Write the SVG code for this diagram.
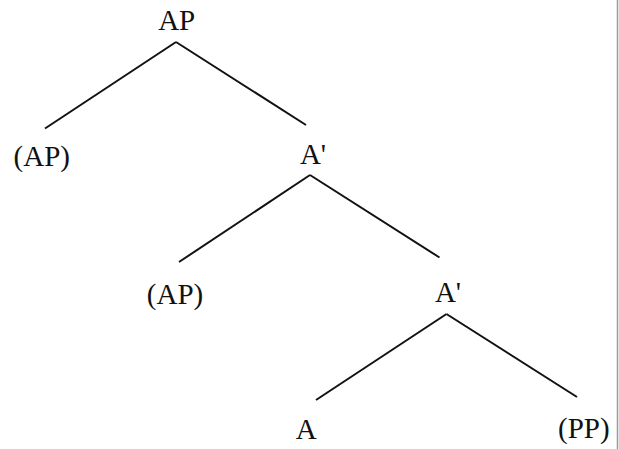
<svg xmlns="http://www.w3.org/2000/svg" width="619" height="449" viewBox="0 0 619 449">
<style>
.lbl{font-family:"Liberation Serif","Times New Roman",serif;font-size:29px;fill:#111;text-anchor:middle}
.edge{stroke:#111;stroke-width:2;fill:none;stroke-linecap:butt}
</style>
<rect width="619" height="449" fill="#fff"/>
<line x1="617.5" y1="0" x2="617.5" y2="449" stroke="#999" stroke-width="1.5"/>
<g id="connectors">
<line class="edge" x1="176" y1="42" x2="45" y2="128.5"/>
<line class="edge" x1="176" y1="42" x2="306" y2="125"/>
<line class="edge" x1="310" y1="175" x2="179" y2="262"/>
<line class="edge" x1="310" y1="175" x2="439.5" y2="257.5"/>
<line class="edge" x1="446.5" y1="314" x2="316" y2="400"/>
<line class="edge" x1="446.5" y1="314" x2="577" y2="397"/>
</g>
<g id="n-ap"><text class="lbl" x="176.7" y="29.5">AP</text></g>
<g id="n-ap-spec1"><text class="lbl" x="41.8" y="166">(AP)</text></g>
<g id="n-abar1"><text class="lbl" x="313" y="164">A'</text></g>
<g id="n-ap-spec2"><text class="lbl" x="175" y="303.5">(AP)</text></g>
<g id="n-abar2"><text class="lbl" x="448" y="302">A'</text></g>
<g id="n-a"><text class="lbl" x="306.3" y="439">A</text></g>
<g id="n-pp"><text class="lbl" x="583.8" y="437.5">(PP)</text></g>
</svg>
